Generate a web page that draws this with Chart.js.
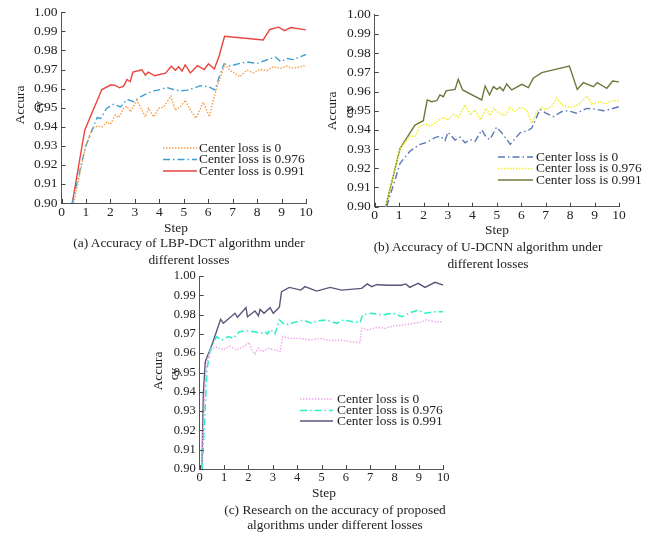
<!DOCTYPE html>
<html>
<head>
<meta charset="utf-8">
<script src="https://cdn.jsdelivr.net/npm/chart.js@4.4.1/dist/chart.umd.min.js"></script>
<style>
  body { margin: 0; background: #fff; width: 656px; height: 536px; position: relative; overflow: hidden;
         font-family: "Liberation Serif", "Times New Roman", serif; color: #222; }
  canvas { position: absolute; }
  .cap { position: absolute; width: 300px; font-size: 13.4px; text-align: center; white-space: nowrap; }
</style>
</head>
<body>
<canvas id="chartA" width="325" height="245" style="left:0;top:0"></canvas>
<canvas id="chartB" width="331" height="245" style="left:325px;top:0"></canvas>
<canvas id="chartC" width="320" height="240" style="left:140px;top:265px"></canvas>
<div class="cap" style="left:39px;top:234px;line-height:17px">(a) Accuracy of LBP-DCT algorithm under<br>different losses</div>
<div class="cap" style="left:338px;top:238px;line-height:17px">(b) Accuracy of U-DCNN algorithm under<br>different losses</div>
<div class="cap" style="left:185px;top:502px;line-height:15px">(c) Research on the accuracy of proposed<br>algorithms under different losses</div>
<script>
Chart.defaults.font.family = '"Liberation Serif", "Times New Roman", serif';
Chart.defaults.color = '#222';

const lossLabels = ['Center loss is 0', 'Center loss is 0.976', 'Center loss is 0.991'];

// (a) LBP-DCT
const stepsA0 = [0.5, 0.98, 1.25, 1.46, 1.66, 1.86, 2.0, 2.2, 2.34, 2.54, 2.68, 2.82, 2.95, 3.09, 3.22, 3.43, 3.56, 3.77, 3.97, 4.18, 4.48, 4.65, 4.86, 5.06, 5.27, 5.5, 5.8, 6.05, 6.21, 6.41, 6.69, 6.9, 7.1, 7.3, 7.58, 7.85, 8.12, 8.39, 8.67, 8.94, 9.21, 9.48, 9.76, 10];
const accA0 = [0.900, 0.9294, 0.9391, 0.9403, 0.9399, 0.9426, 0.9413, 0.9461, 0.9448, 0.9496, 0.9508, 0.9478, 0.9508, 0.9539, 0.9504, 0.9452, 0.9496, 0.9452, 0.9496, 0.9504, 0.9560, 0.9487, 0.9504, 0.9539, 0.9487, 0.9445, 0.9528, 0.9452, 0.9540, 0.9628, 0.9728, 0.9694, 0.9680, 0.9662, 0.9697, 0.9683, 0.9701, 0.9694, 0.9715, 0.9706, 0.9718, 0.9706, 0.9715, 0.9722];
const stepsA1 = [0.44, 0.98, 1.46, 1.6, 1.84, 2.14, 2.41, 2.68, 2.95, 3.22, 3.5, 3.77, 4.04, 4.31, 4.58, 4.86, 5.13, 5.4, 5.67, 6.0, 6.28, 6.46, 6.65, 6.9, 7.3, 7.58, 7.99, 8.39, 8.75, 8.97, 9.21, 9.48, 10];
const accA1 = [0.900, 0.9294, 0.9448, 0.9443, 0.9496, 0.9518, 0.9504, 0.9543, 0.9531, 0.9557, 0.9574, 0.9588, 0.9595, 0.9606, 0.9595, 0.9588, 0.9592, 0.9601, 0.9615, 0.9610, 0.9593, 0.9665, 0.9730, 0.9718, 0.9732, 0.9740, 0.9732, 0.9750, 0.9766, 0.9741, 0.9758, 0.9752, 0.9779];
const stepsA2 = [0.44, 0.95, 1.65, 2.02, 2.2, 2.38, 2.54, 2.68, 2.81, 2.92, 3.29, 3.43, 3.55, 3.81, 4.25, 4.49, 4.66, 4.79, 4.93, 5.06, 5.27, 5.56, 5.84, 6.01, 6.25, 6.45, 6.67, 8.25, 8.52, 8.88, 9.12, 9.38, 10];
const accA2 = [0.900, 0.9382, 0.9595, 0.9620, 0.9617, 0.9604, 0.9613, 0.9648, 0.9636, 0.9686, 0.9698, 0.9671, 0.9686, 0.9667, 0.9681, 0.9717, 0.9696, 0.9714, 0.9692, 0.9724, 0.9682, 0.9720, 0.9700, 0.9730, 0.9703, 0.9772, 0.9874, 0.9855, 0.9910, 0.9922, 0.9904, 0.9920, 0.9908];

// (b) U-DCNN
const stepsB0 = [0.49, 1.04, 1.45, 1.86, 2.13, 2.47, 2.67, 2.88, 3.0, 3.29, 3.49, 3.7, 3.9, 4.11, 4.38, 4.58, 4.72, 4.99, 5.2, 5.55, 5.95, 6.29, 6.43, 6.77, 6.97, 7.31, 7.65, 7.92, 8.26, 8.68, 9.09, 9.36, 9.63, 10];
const accB0 = [0.900, 0.9226, 0.9290, 0.9325, 0.9335, 0.9360, 0.9368, 0.9345, 0.9388, 0.9347, 0.9362, 0.9333, 0.9350, 0.9340, 0.9400, 0.9360, 0.9350, 0.9415, 0.9385, 0.9325, 0.9385, 0.9398, 0.9410, 0.9507, 0.9490, 0.9469, 0.9495, 0.9500, 0.9487, 0.9512, 0.9507, 0.9500, 0.9507, 0.9521];
const stepsB1 = [0.45, 1.04, 1.44, 1.65, 1.83, 2.06, 2.26, 2.54, 2.81, 3.01, 3.22, 3.42, 3.7, 3.9, 4.1, 4.34, 4.56, 4.72, 4.88, 5.06, 5.33, 5.54, 5.74, 5.95, 6.22, 6.43, 6.63, 6.84, 7.02, 7.25, 7.45, 7.65, 7.99, 8.33, 8.7, 8.88, 9.22, 9.43, 9.7, 10];
const accB1 = [0.900, 0.9304, 0.9368, 0.9365, 0.9417, 0.9431, 0.9420, 0.9443, 0.9466, 0.9452, 0.9481, 0.9466, 0.9530, 0.9478, 0.9504, 0.9452, 0.9512, 0.9474, 0.9512, 0.9490, 0.9474, 0.9517, 0.9495, 0.9517, 0.9504, 0.9434, 0.9495, 0.9517, 0.9504, 0.9525, 0.9565, 0.9530, 0.9517, 0.9530, 0.9577, 0.9535, 0.9547, 0.9535, 0.9552, 0.9552];
const stepsB2 = [0.45, 1.04, 1.65, 1.99, 2.15, 2.33, 2.54, 2.67, 2.81, 2.92, 3.29, 3.42, 3.6, 4.38, 4.52, 4.7, 4.86, 5.0, 5.13, 5.26, 5.4, 5.61, 6.02, 6.29, 6.49, 6.84, 7.97, 8.29, 8.54, 8.95, 9.11, 9.5, 9.74, 10];
const accB2 = [0.900, 0.9304, 0.9425, 0.9448, 0.9556, 0.9547, 0.9552, 0.9582, 0.9573, 0.9603, 0.9611, 0.9663, 0.9608, 0.9556, 0.9629, 0.9582, 0.9625, 0.9611, 0.9622, 0.9604, 0.9639, 0.9608, 0.9637, 0.9620, 0.9669, 0.9698, 0.9733, 0.9611, 0.9646, 0.9625, 0.9646, 0.9617, 0.9655, 0.9650];

// (c) proposed
const stepsC0 = [0.07, 0.2, 0.27, 0.42, 0.69, 0.97, 1.24, 1.51, 1.78, 2.04, 2.13, 2.27, 2.41, 2.55, 2.82, 3.09, 3.3, 3.41, 3.71, 4.12, 4.53, 4.94, 5.35, 5.76, 6.17, 6.58, 6.65, 6.93, 7.27, 7.61, 7.95, 8.36, 8.77, 9.04, 9.32, 9.66, 10];
const accC0 = [0.900, 0.9392, 0.9530, 0.9617, 0.9631, 0.9617, 0.9637, 0.9617, 0.9634, 0.9655, 0.9620, 0.9596, 0.9625, 0.9608, 0.9625, 0.9617, 0.9608, 0.9686, 0.9677, 0.9677, 0.9668, 0.9677, 0.9665, 0.9668, 0.9660, 0.9655, 0.9729, 0.9720, 0.9734, 0.9729, 0.9741, 0.9746, 0.9755, 0.9760, 0.9772, 0.9763, 0.9763];
const stepsC1 = [0.1, 0.2, 0.3, 0.45, 0.69, 0.9, 1.17, 1.38, 1.63, 1.93, 2.27, 2.48, 2.68, 2.78, 2.89, 3.09, 3.27, 3.5, 3.98, 4.25, 4.6, 4.87, 5.21, 5.62, 5.9, 6.31, 6.58, 6.69, 7.06, 7.47, 7.95, 8.3, 8.64, 8.97, 9.25, 9.66, 10];
const accC1 = [0.900, 0.9250, 0.9520, 0.9620, 0.9686, 0.9668, 0.9686, 0.9677, 0.9711, 0.9716, 0.9711, 0.9703, 0.9711, 0.9699, 0.9723, 0.9700, 0.9772, 0.9746, 0.9763, 0.9772, 0.9755, 0.9768, 0.9772, 0.9755, 0.9772, 0.9763, 0.9758, 0.9798, 0.9807, 0.9798, 0.9807, 0.9789, 0.9810, 0.9824, 0.9807, 0.9815, 0.9815];
const stepsC2 = [0.09, 0.15, 0.23, 0.5, 0.86, 0.97, 1.45, 1.55, 1.9, 1.96, 2.27, 2.41, 2.48, 2.64, 2.89, 3.02, 3.27, 3.36, 3.68, 4.15, 4.32, 4.8, 5.35, 5.83, 6.65, 6.88, 7.06, 7.26, 7.8, 8.28, 8.46, 8.62, 8.97, 9.25, 9.66, 10];
const accC2 = [0.900, 0.9392, 0.9556, 0.9642, 0.9776, 0.9755, 0.9807, 0.9786, 0.9836, 0.9789, 0.9819, 0.9793, 0.9827, 0.9807, 0.9836, 0.9807, 0.9838, 0.9919, 0.9941, 0.9927, 0.9945, 0.9922, 0.9941, 0.9927, 0.9936, 0.9959, 0.9945, 0.9955, 0.9952, 0.9952, 0.9959, 0.9941, 0.9962, 0.9941, 0.9967, 0.9953];

const DOTTED = [1.5, 1.5], DASHDOT = [7, 3, 1.5, 3], SOLID = [];

const toPoints = (steps, acc) => steps.map((s, i) => ({ x: s, y: acc[i] }));

// inward ticks, axis titles and the in-plot legend
const panelDecor = {
  id: 'panelDecor',
  afterDraw: (chart, args, opts) => {
    const ctx = chart.ctx;
    const area = chart.chartArea;
    const xs = chart.scales.x, ys = chart.scales.y;
    ctx.save();
    ctx.strokeStyle = '#444';
    ctx.lineWidth = 1;
    ctx.beginPath();
    ys.ticks.forEach(t => {
      const y = Math.round(ys.getPixelForValue(t.value)) + 0.5;
      ctx.moveTo(area.left, y);
      ctx.lineTo(area.left + 4, y);
    });
    xs.ticks.forEach(t => {
      const x = Math.round(xs.getPixelForValue(t.value)) + 0.5;
      ctx.moveTo(x, area.bottom);
      ctx.lineTo(x, area.bottom - 4);
    });
    ctx.stroke();

    ctx.fillStyle = '#222';
    ctx.font = '13.4px "Liberation Serif"';
    ctx.textAlign = 'center';
    ctx.textBaseline = 'middle';
    ctx.fillText('Step', opts.stepX, opts.stepY);
    [['Accura', opts.yTitle], ['cy', opts.yTail]].forEach(([txt, p]) => {
      ctx.save();
      ctx.translate(p[0], p[1]);
      ctx.rotate(-Math.PI / 2);
      ctx.fillText(txt, 0, 0);
      ctx.restore();
    });

    const lg = opts.legend;
    chart.data.datasets.forEach((ds, i) => {
      const y = lg.rows[i];
      ctx.strokeStyle = ds.borderColor;
      ctx.lineWidth = ds.borderWidth;
      ctx.setLineDash(ds.borderDash);
      ctx.beginPath();
      ctx.moveTo(lg.x0, y);
      ctx.lineTo(lg.x1, y);
      ctx.stroke();
      ctx.setLineDash([]);
      ctx.textAlign = 'left';
      ctx.fillText(ds.label, lg.tx, y);
    });
    ctx.restore();
  }
};

const createPanel = function createPanel(id, cfg) {
  const canvas = document.getElementById(id);
  const yw = 45, xh = 20;
  return new Chart(canvas, {
    type: 'line',
    plugins: [panelDecor],
    data: {
      datasets: cfg.series.map((s, i) => ({
        label: lossLabels[i],
        data: toPoints(s.steps, s.acc),
        borderColor: s.color,
        borderWidth: s.width,
        borderDash: s.dash,
        pointRadius: 0,
        tension: 0,
        fill: false
      }))
    },
    options: {
      responsive: false,
      animation: false,
      layout: {
        padding: {
          left: cfg.area.left - yw,
          top: cfg.area.top,
          right: canvas.width - cfg.area.right,
          bottom: canvas.height - cfg.area.bottom - xh
        }
      },
      plugins: {
        legend: { display: false },
        tooltip: { enabled: false },
        panelDecor: cfg.decor
      },
      scales: {
        x: {
          type: 'linear',
          min: 0,
          max: 10,
          grid: { drawOnChartArea: false, drawTicks: false },
          border: { color: '#555', width: 1 },
          ticks: { stepSize: 1, padding: 1, autoSkip: false, maxRotation: 0, color: '#222', font: { size: cfg.tickSize } },
          afterFit: s => { s.height = xh; s.paddingLeft = 0; s.paddingRight = 0; }
        },
        y: {
          min: 0.9,
          max: 1.0,
          grid: { drawOnChartArea: false, drawTicks: false },
          border: { color: '#555', width: 1 },
          ticks: {
            stepSize: 0.01, padding: 4, autoSkip: false, color: '#222', font: { size: cfg.tickSize },
            callback: value => value.toFixed(2)
          },
          afterFit: s => { s.width = yw; s.paddingTop = 0; s.paddingBottom = 0; }
        }
      }
    }
  });
};

createPanel('chartA', {
  area: { left: 61.5, top: 12.3, right: 306, bottom: 203 },
  tickSize: 13.5,
  series: [
    { steps: stepsA0, acc: accA0, color: '#f4a048', width: 1.4, dash: DOTTED },
    { steps: stepsA1, acc: accA1, color: '#3a9fd6', width: 1.4, dash: DASHDOT },
    { steps: stepsA2, acc: accA2, color: '#e8453f', width: 1.4, dash: SOLID }
  ],
  decor: { stepX: 176, stepY: 228, yTitle: [20, 105], yTail: [39, 107], legend: { x0: 163, x1: 197, tx: 199, rows: [148, 159.5, 171] } }
});

createPanel('chartB', {
  area: { left: 49.7, top: 14.7, right: 294, bottom: 206.7 },
  tickSize: 13.5,
  series: [
    { steps: stepsB0, acc: accB0, color: '#5b78b4', width: 1.4, dash: DASHDOT },
    { steps: stepsB1, acc: accB1, color: '#f2ee2c', width: 1.6, dash: DOTTED },
    { steps: stepsB2, acc: accB2, color: '#6b7b3d', width: 1.4, dash: SOLID }
  ],
  decor: { stepX: 172, stepY: 230, yTitle: [7, 111], yTail: [24, 112], legend: { x0: 173, x1: 208, tx: 211, rows: [157, 168.5, 180] } }
});

createPanel('chartC', {
  area: { left: 59.7, top: 11, right: 303.3, bottom: 204 },
  tickSize: 12.5,
  series: [
    { steps: stepsC0, acc: accC0, color: '#f2a4ef', width: 1.4, dash: DOTTED },
    { steps: stepsC1, acc: accC1, color: '#2ef0c6', width: 1.6, dash: DASHDOT },
    { steps: stepsC2, acc: accC2, color: '#5d5479', width: 1.4, dash: SOLID }
  ],
  decor: { stepX: 184, stepY: 228, yTitle: [18, 106], yTail: [34, 109], legend: { x0: 160, x1: 193, tx: 197, rows: [134, 145.5, 156] } }
});
</script>
</body>
</html>
